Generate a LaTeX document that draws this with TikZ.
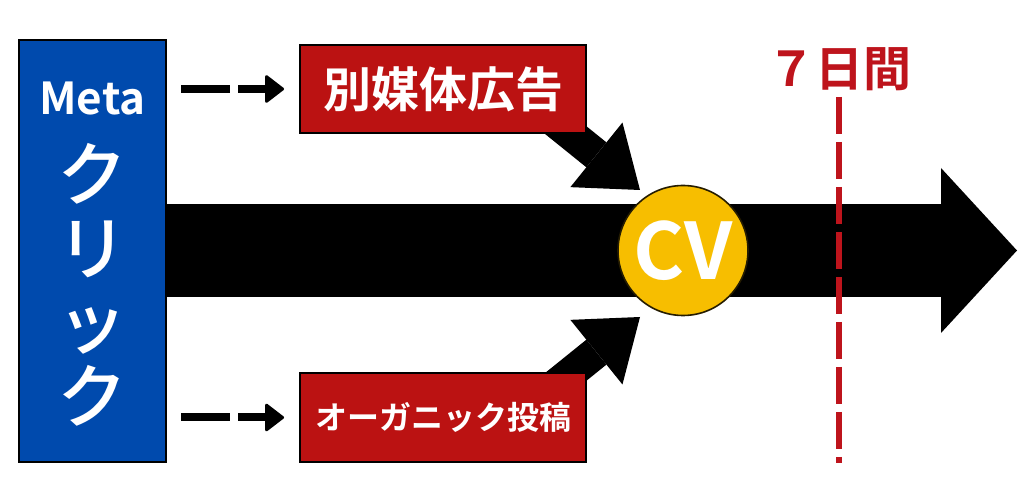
\documentclass[tikz,border=0pt]{standalone}
\usepackage{fontspec}
\newfontfamily\jpfont{Noto Sans CJK JP}[BoldFont={Noto Sans CJK JP Bold}]
\newfontfamily\jpmed{Noto Sans CJK JP Medium}
\usetikzlibrary{arrows.meta,positioning}
\definecolor{clickblue}{RGB}{0,74,173}
\definecolor{adred}{RGB}{187,18,18}
\definecolor{cvyellow}{RGB}{247,190,0}
\definecolor{dayred}{RGB}{190,20,28}
\tikzset{
  redbox/.style={draw=black, line width=1pt, fill=adred, text=white,
    minimum width=143pt, inner sep=0pt, font=\jpfont\bfseries},
  timeline/.style={line width=46.5pt, -{Triangle[length=38pt,width=82.5pt,line width=0pt]}},
  push/.style={line width=16pt, -{Triangle[length=28pt,width=41.5pt,line width=0pt]}},
  hint/.style={line width=4pt, dash pattern=on 24.5pt off 4pt, shorten >=7.5pt,
    -{Triangle[length=10pt,width=15pt,round,line width=1.5pt]}},
  weekline/.style={draw=dayred, line width=3pt, dash pattern=on 18.5pt off 4pt}
}
\begin{document}
\begin{tikzpicture}[x=0.5pt,y=-0.5pt]
\useasboundingbox[fill=white] (0,0) rectangle (1024,502);
% Meta click
\node[draw=black, line width=1pt, fill=clickblue, minimum width=73.5pt,
  minimum height=211pt, inner sep=0pt] (click) at (92.5,251) {};
\node[text=white, inner sep=0pt, font=\jpfont\bfseries\fontsize{22}{22}\selectfont]
  (meta) at (92.5,99) {Meta};
\node[text=white, inner sep=0pt, align=center,
  font=\jpmed\fontsize{35}{37}\selectfont]
  (kuri) at (92.5,285) {ク\\リ\\ッ\\ク};
% time axis
\coordinate (tend) at (1017,250.5);
\draw[timeline] (click.east |- tend) -- (tend);
% other touch points
\coordinate (adtail) at (547,115);
\coordinate (adtip) at (640,190);
\coordinate (orgtail) at (547,392);
\coordinate (orgtip) at (640,317);
\draw[push] (adtail) -- (adtip);
\draw[push] (orgtail) -- (orgtip);
\node[redbox, minimum height=44pt, font=\jpfont\bfseries\fontsize{24}{24}\selectfont]
  (ad) at (443,89) {別媒体広告};
\node[redbox, minimum height=44.5pt, font=\jpfont\bfseries\fontsize{16}{16}\selectfont]
  (organic) at (443,417.5) {オーガニック投稿};
\draw[hint] ([xshift=7pt]click.east |- ad) -- (ad);
\draw[hint] ([xshift=7pt]click.east |- organic) -- (organic);
% conversion
\node[circle, draw=black!85!cvyellow, line width=0.8pt, fill=cvyellow, minimum size=65pt,
  inner sep=0pt, text=white, font=\jpfont\bfseries\fontsize{39}{39}\selectfont]
  (cv) at (683,250.5) {CV};
% 7 days
\coordinate (weektop) at (839,97);
\coordinate (weekend) at (839,463);
\draw[weekline] (weektop) -- (weekend);
\node[above=3pt of weektop, inner sep=0pt, text=dayred,
  font=\jpfont\bfseries\fontsize{24}{24}\selectfont] (week) {７日間};
\end{tikzpicture}
\end{document}
